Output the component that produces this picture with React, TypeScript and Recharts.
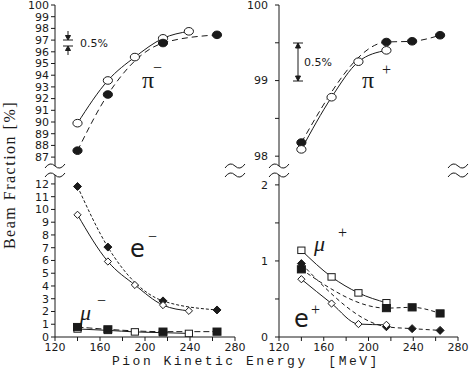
import React from 'react';
import { LineChart, Line, XAxis, YAxis } from 'recharts';

// pion beam energies where the composition was measured [MeV]
const energies = [140, 167, 191, 216, 239, 264];

// beam fractions [%]; open markers sit on the solid curves, filled ones on the dashed curves
const piMinusOpen = [89.9, 93.55, 95.55, 97.15, 97.75, null];
const piMinusFilled = [87.55, 92.35, null, 96.75, null, 97.45];

const piPlusOpen = [98.09, 98.78, 99.25, 99.4, null, null];
const piPlusFilled = [98.18, null, null, 99.51, 99.52, 99.6];

const eMinusOpen = [9.58, 5.92, 4.08, 2.5, 2.05, null];
const eMinusFilled = [11.8, 7.05, null, 2.83, null, 2.12];
const muMinusOpen = [0.63, 0.52, 0.4, 0.34, 0.28, null];
const muMinusFilled = [0.78, 0.6, null, 0.42, null, 0.42];

const muPlusOpen = [1.14, 0.79, 0.58, 0.45, null, null];
const muPlusFilled = [0.89, null, null, 0.38, 0.39, 0.31];
const ePlusOpen = [0.76, 0.44, 0.17, 0.16, null, null];
const ePlusFilled = [0.965, null, null, 0.135, 0.11, 0.087];

const energyTicks = [120, 140, 160, 180, 200, 220, 240, 260, 280];
const piMinusTicks = [87, 88, 89, 90, 91, 92, 93, 94, 95, 96, 97, 98, 99, 100];
const piPlusTicks = [98, 98.5, 99, 99.5, 100];
const leptonMinusTicks = [0, 1, 2, 3, 4, 5, 6, 7, 8, 9, 10, 11, 12];
const leptonPlusTicks = [0, 0.5, 1, 1.5, 2];

const INK = '#1a1a1a';
const TICK_FONT = '"DejaVu Sans", sans-serif';

type Shape = 'circle' | 'diamond' | 'square';
type Series = { key: string; values: (number | null)[]; shape: Shape; filled: boolean; dash?: string };

const blank = () => <g />;

const marker = (shape: Shape, filled: boolean) => (p: any) => {
  const k = `${p.dataKey}-${p.index}`;
  const v = p.payload ? p.payload[p.dataKey] : null;
  if (v == null || p.cy == null || isNaN(p.cy)) return <g key={k} />;
  const fill = filled ? INK : '#fff';
  const { cx, cy } = p;
  if (shape === 'circle') {
    return <ellipse key={k} cx={cx} cy={cy} rx={4.6} ry={3.8} fill={fill} stroke={INK} strokeWidth={1} />;
  }
  if (shape === 'diamond') {
    const r = filled ? 4 : 3.6;
    return (
      <polygon key={k} points={`${cx},${cy - r} ${cx + r},${cy} ${cx},${cy + r} ${cx - r},${cy}`}
        fill={fill} stroke={INK} strokeWidth={1} />
    );
  }
  const s = filled ? 4 : 3.6;
  return <rect key={k} x={cx - s} y={cy - s * 0.9} width={s * 2} height={s * 1.8} fill={fill} stroke={INK} strokeWidth={1} />;
};

const yTick = (labelled: (v: number) => boolean) => (p: any) => {
  const v = p.payload.value;
  if (!labelled(v)) return <g />;
  return (
    <text x={p.x} y={p.y} dy="0.35em" textAnchor="end" fontFamily={TICK_FONT} fontSize={11} fill={INK}>
      {v}
    </text>
  );
};

const xTick = (p: any) => {
  const v = p.payload.value;
  if (v % 40 !== 0) return <g />;
  return (
    <text x={p.x} y={p.y} dy="0.71em" textAnchor="middle" fontFamily={TICK_FONT} fontSize={11} fill={INK}>
      {v}
    </text>
  );
};

interface PanelProps {
  box: [number, number, number, number];
  margin: { top: number; right: number; bottom: number; left: number };
  yWidth: number;
  labelGap: number;
  domain: [number, number];
  ticks: number[];
  labelled: (v: number) => boolean;
  series: Series[];
  bottom: boolean;
}

function Panel({ box, margin, yWidth, labelGap, domain, ticks, labelled, series, bottom }: PanelProps) {
  const data = energies.map((e, i) => {
    const row: any = { e };
    series.forEach(s => { row[s.key] = s.values[i]; });
    return row;
  });

  return (
    <div style={{ position: 'absolute', left: box[0], top: box[1] }}>
      <LineChart width={box[2]} height={box[3]} data={data} margin={margin}>
        {bottom ? (
          <XAxis type="number" dataKey="e" domain={[120, 280]} ticks={energyTicks} interval={0}
            height={18} tickSize={4} tickMargin={2} stroke={INK} tick={xTick} allowDataOverflow />
        ) : (
          <XAxis type="number" dataKey="e" domain={[120, 280]} ticks={energyTicks} interval={0}
            orientation="top" height={0} tickSize={4} stroke={INK} tick={blank} allowDataOverflow />
        )}
        <YAxis yAxisId="y" type="number" domain={domain} ticks={ticks} interval={0} width={yWidth}
          tickSize={4} tickMargin={labelGap} stroke={INK} tick={yTick(labelled)} allowDataOverflow />
        <YAxis yAxisId="r" orientation="right" type="number" domain={domain} ticks={ticks} interval={0}
          width={0} tickSize={4} stroke={INK} tick={blank} allowDataOverflow />
        {series.map(s => (
          <Line key={s.key} yAxisId="y" type="monotone" dataKey={s.key} stroke={INK} strokeWidth={1}
            strokeDasharray={s.dash} dot={marker(s.shape, s.filled)} activeDot={false}
            connectNulls isAnimationActive={false} />
        ))}
      </LineChart>
    </div>
  );
}

const wave = (cx: number, cy: number) =>
  `M ${cx - 10} ${cy + 2} Q ${cx - 5} ${cy - 5} ${cx} ${cy} T ${cx + 10} ${cy - 2}`;

export default function App() {
  const everyInt = (v: number) => Number.isInteger(v);
  const axesX = [55, 235, 279, 458];

  return (
    <div style={{ position: 'absolute', left: 0, top: 0, width: 469, height: 369, background: '#fff', overflow: 'hidden' }}>
      <Panel box={[0, 0, 250, 170]} margin={{ top: 5, right: 15, bottom: 4, left: 0 }} yWidth={55} labelGap={2}
        domain={[86.24, 100]} ticks={piMinusTicks} labelled={everyInt} bottom={false}
        series={[
          { key: 'open', values: piMinusOpen, shape: 'circle', filled: false },
          { key: 'filled', values: piMinusFilled, shape: 'circle', filled: true, dash: '6 4' },
        ]} />
      <Panel box={[236, 0, 233, 170]} margin={{ top: 5, right: 11, bottom: 4, left: 0 }} yWidth={43} labelGap={7}
        domain={[97.87, 100]} ticks={piPlusTicks} labelled={everyInt} bottom={false}
        series={[
          { key: 'filled', values: piPlusFilled, shape: 'circle', filled: true, dash: '6 4' },
          { key: 'open', values: piPlusOpen, shape: 'circle', filled: false },
        ]} />
      <Panel box={[0, 170, 250, 185]} margin={{ top: 5, right: 15, bottom: 0, left: 0 }} yWidth={55} labelGap={2}
        domain={[0, 12.7]} ticks={leptonMinusTicks} labelled={everyInt} bottom
        series={[
          { key: 'eFilled', values: eMinusFilled, shape: 'diamond', filled: true, dash: '3 2' },
          { key: 'eOpen', values: eMinusOpen, shape: 'diamond', filled: false },
          { key: 'muOpen', values: muMinusOpen, shape: 'square', filled: false },
          { key: 'muFilled', values: muMinusFilled, shape: 'square', filled: true, dash: '6 3' },
        ]} />
      <Panel box={[236, 170, 233, 185]} margin={{ top: 5, right: 11, bottom: 0, left: 0 }} yWidth={43} labelGap={7}
        domain={[0, 2.13]} ticks={leptonPlusTicks} labelled={everyInt} bottom
        series={[
          { key: 'muOpen', values: muPlusOpen, shape: 'square', filled: false },
          { key: 'muFilled', values: muPlusFilled, shape: 'square', filled: true, dash: '4 3' },
          { key: 'eFilled', values: ePlusFilled, shape: 'diamond', filled: true, dash: '4 3' },
          { key: 'eOpen', values: ePlusOpen, shape: 'diamond', filled: false },
        ]} />

      <svg width={469} height={369} style={{ position: 'absolute', left: 0, top: 0, pointerEvents: 'none' }}>
        {/* axis breaks */}
        {axesX.map(x => (
          <g key={x} fill="none" stroke={INK} strokeWidth={1}>
            <path d={wave(x, 166)} />
            <path d={wave(x, 175)} />
          </g>
        ))}

        {/* 0.5% scale markers */}
        <g stroke={INK} strokeWidth={1} fill={INK}>
          <line x1={63} y1={40} x2={73} y2={40} />
          <line x1={63} y1={46} x2={73} y2={46} />
          <line x1={68} y1={31} x2={68} y2={37} />
          <polygon points="65.5,35.5 70.5,35.5 68,40" />
          <line x1={68} y1={49} x2={68} y2={55} />
          <polygon points="65.5,50.5 70.5,50.5 68,46" />

          <line x1={298} y1={43} x2={298} y2={81} />
          <line x1={293} y1={43} x2={303} y2={43} />
          <line x1={293} y1={81} x2={303} y2={81} />
          <polygon points="295.5,48 300.5,48 298,43" />
          <polygon points="295.5,76 300.5,76 298,81" />
        </g>
        <text x={80} y={43} dy="0.35em" fontFamily={TICK_FONT} fontSize={11} fill={INK}>0.5%</text>
        <text x={304} y={62} dy="0.35em" fontFamily={TICK_FONT} fontSize={11} fill={INK}>0.5%</text>

        {/* particle labels */}
        <g fill={INK} fontFamily='"Liberation Serif", serif'>
          <text x={142} y={88} fontSize={24}>π</text>
          <text x={153} y={73} fontSize={16}>−</text>
          <text x={362} y={88} fontSize={24}>π</text>
          <text x={382} y={75} fontSize={16}>+</text>
          <text x={130} y={257} fontSize={24} fontFamily='"DejaVu Sans", sans-serif'>e</text>
          <text x={148} y={242} fontSize={16}>−</text>
          <text x={80} y={320} fontSize={22} fontStyle="italic">μ</text>
          <text x={97} y={306} fontSize={16}>−</text>
          <text x={314} y={251} fontSize={22} fontStyle="italic">μ</text>
          <text x={338} y={238} fontSize={16}>+</text>
          <text x={294} y={327} fontSize={24} fontFamily='"DejaVu Sans", sans-serif'>e</text>
          <text x={311} y={315} fontSize={16}>+</text>
        </g>

        {/* axis titles */}
        <text transform="rotate(-90)" x={-175} y={15} textAnchor="middle" fontFamily='"Liberation Serif", serif'
          fontSize={16} letterSpacing={1.5} fill={INK}>
          Beam Fraction [%]
        </text>
        <text x={112} y={365} fontFamily='"Liberation Mono", monospace' fontSize={13} letterSpacing={2.5}
          fill={INK} style={{ whiteSpace: 'pre' }}>
          {'Pion Kinetic Energy  [MeV]'}
        </text>
      </svg>
    </div>
  );
}
